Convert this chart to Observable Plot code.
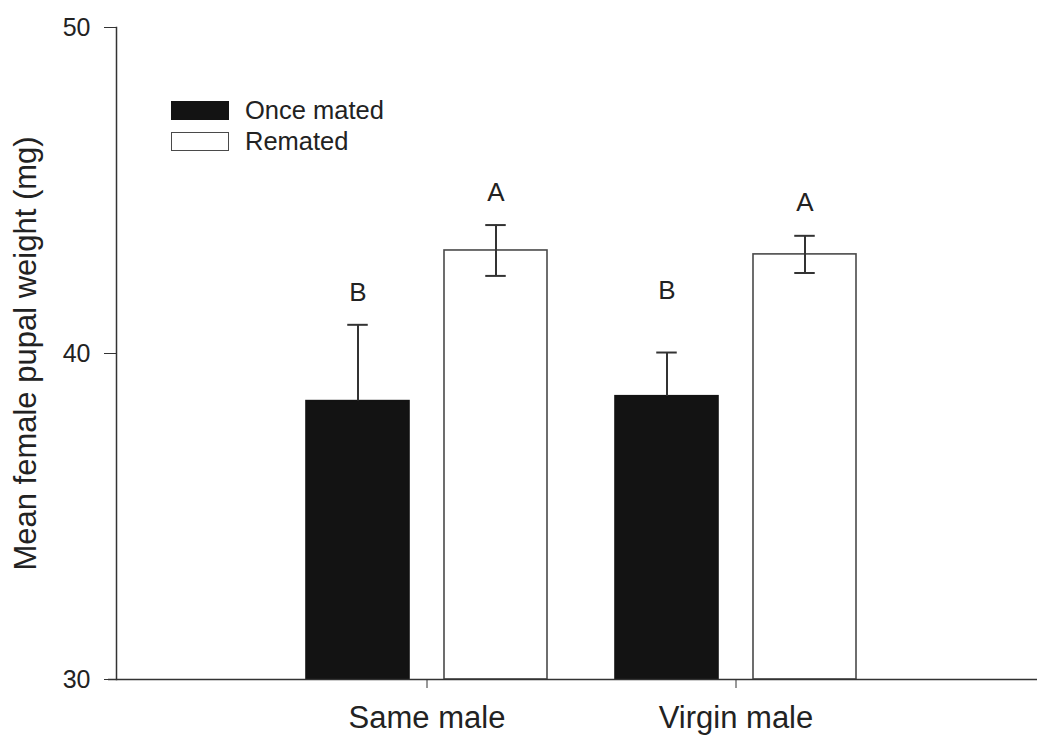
<!DOCTYPE html>
<html>
<head>
<meta charset="utf-8">
<script src="https://cdn.jsdelivr.net/npm/d3@7"></script>
<script src="https://cdn.jsdelivr.net/npm/@observablehq/plot@0.6"></script>
<style>
  body { margin: 0; background: #fff; }
  #wrap { position: relative; width: 1037px; height: 735px; font-family: "Liberation Sans", Arial, sans-serif; }
  #legend { position: absolute; left: 171px; top: 95px; font-size: 25.5px; color: #222; }
  .row { display: flex; align-items: center; height: 31px; }
  .sw { width: 58px; height: 18.5px; box-sizing: border-box; margin-right: 16px; }
</style>
</head>
<body>
<div id="wrap"><div id="legend"></div></div>
<script>
const groups = ["Same male", "Virgin male"];
const treatments = ["Once mated", "Remated"];
const onceMean = [38.54, 38.69];
const onceSE = [2.34, 1.34];
const rematedMean = [43.16, 43.04];
const rematedSE = [0.78, 0.57];
const onceLetter = ["B", "B"];
const rematedLetter = ["A", "A"];
const onceLetterY = [41.88, 41.93];
const rematedLetterY = [44.92, 44.64];
const yTicks = [30, 40, 50];
const fills = {"Once mated": "#131313", "Remated": "#ffffff"};
const strokes = {"Once mated": "#131313", "Remated": "#4a4a4a"};

const once = groups.map((g, i) => ({group: g, treatment: treatments[0], mean: onceMean[i], se: onceSE[i], letter: onceLetter[i], ly: onceLetterY[i]}));
const remated = groups.map((g, i) => ({group: g, treatment: treatments[1], mean: rematedMean[i], se: rematedSE[i], letter: rematedLetter[i], ly: rematedLetterY[i]}));

// style: within each group band (241.5px), bar width 103.5px, bars offset ±69px from centre
const side = {
  "Once mated": {barL: 0, barR: 138, dx: -69, capL: 41.25, capR: 179.25},
  "Remated": {barL: 138, barR: 0, dx: 69, capL: 179.25, capR: 41.25}
};

function seriesMarks(rows, t, lowerBar) {
  const s = side[t];
  const marks = [
    Plot.barY(rows, {x: "group", y1: 30, y2: "mean", fill: fills[t], stroke: strokes[t], strokeWidth: 1.6,
      insetLeft: s.barL, insetRight: s.barR}),
    Plot.ruleX(rows, {x: "group", y1: d => lowerBar ? d.mean - d.se : d.mean, y2: d => d.mean + d.se,
      stroke: "#333", strokeWidth: 2, dx: s.dx}),
    Plot.tickY(rows, {x: "group", y: d => d.mean + d.se, stroke: "#333", strokeWidth: 2, insetLeft: s.capL, insetRight: s.capR}),
    Plot.text(rows, {x: "group", y: "ly", text: "letter", fontSize: 26, fill: "#222", dx: s.dx})
  ];
  if (lowerBar) marks.push(Plot.tickY(rows, {x: "group", y: d => d.mean - d.se, stroke: "#333", strokeWidth: 2, insetLeft: s.capL, insetRight: s.capR}));
  return marks;
}

const plot = Plot.plot({
  width: 1037,
  height: 735,
  marginLeft: 116,
  marginRight: 0,
  marginTop: 27,
  marginBottom: 56,
  style: {fontFamily: '"Liberation Sans", Arial, sans-serif', color: "#222", background: "transparent"},
  x: {domain: groups, paddingInner: 0.2197, paddingOuter: 0.598, align: 0.513, axis: null},
  y: {domain: [30, 50], axis: null},
  marks: [
    ...seriesMarks(once, treatments[0], false),
    ...seriesMarks(remated, treatments[1], true),
    Plot.axisY({ticks: yTicks, tickSize: 12, tickPadding: 14, fontSize: 25, stroke: "#333", label: null}),
    Plot.axisY({ticks: [], tickSize: 0, fontSize: 31, label: "Mean female pupal weight (mg)",
      labelAnchor: "center", labelArrow: "none", labelOffset: 103}),
    Plot.axisX({tickSize: 9, tickPadding: 17, fontSize: 31, label: null, stroke: "#333"}),
    Plot.frame({anchor: "left", stroke: "#333", strokeWidth: 1.5}),
    Plot.ruleY([30], {stroke: "#333", strokeWidth: 1.5, insetLeft: -8})
  ]
});
document.getElementById("wrap").prepend(plot);

const legend = document.getElementById("legend");
treatments.forEach(t => {
  const row = document.createElement("div");
  row.className = "row";
  const sw = document.createElement("div");
  sw.className = "sw";
  sw.style.background = fills[t];
  sw.style.border = "1.6px solid " + strokes[t];
  const lab = document.createElement("span");
  lab.textContent = t;
  row.appendChild(sw);
  row.appendChild(lab);
  legend.appendChild(row);
});
</script>
</body>
</html>
